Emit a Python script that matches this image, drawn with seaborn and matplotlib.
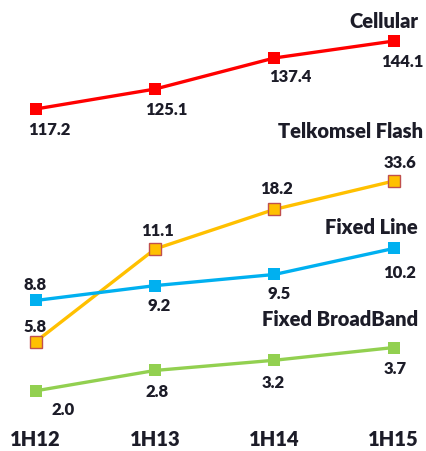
import matplotlib
matplotlib.use("Agg")
import matplotlib.pyplot as plt
import seaborn as sns
import pandas as pd

# ---- data ----
periods = ["1H12", "1H13", "1H14", "1H15"]
cellular = [117.2, 125.1, 137.4, 144.1]
telkomsel_flash = [5.8, 11.1, 18.2, 33.6]
fixed_line = [8.8, 9.2, 9.5, 10.2]
fixed_broadband = [2.0, 2.8, 3.2, 3.7]
series_names = ["Cellular", "Telkomsel Flash", "Fixed Line", "Fixed BroadBand"]

sns.set_theme(style="white")
plt.rcParams['font.family'] = ['Lato', 'DejaVu Sans']

W, H = 427, 452
fig = plt.figure(figsize=(W / 100, H / 100), dpi=100)
TXT = "#1c1c28"

def frac(top, bottom):
    return [0, 1 - bottom / H, 1, (bottom - top) / H]

XLIM = (-0.2996, 3.2787)

# style / layout per series (not data)
styles = {
    "Cellular": dict(color="#FF0000", mfc="#FF0000", mec="#FF0000", ms=8, box=(0, 426),
                     ylim=(-7.88, 160.74), scale=None,
                     off=[(14, -20), (11, -20), (16, -18), (9, -20)],
                     title=(418, 22)),
    "Telkomsel Flash": dict(color="#FFC000", mfc="#FFC000", mec="#C0504D", ms=8.5, box=(160, 426),
                            ylim=(4.058, 98.15), scale="recip",
                            off=[(-1, 16), (2, 19), (2, 21), (6, 19)],
                            title=(423, 132)),
    "Fixed Line": dict(color="#00B0F0", mfc="#00B0F0", mec="#00B0F0", ms=8, box=(0, 426),
                       ylim=(5.449, 16.913), scale=None,
                       off=[(-1, 16), (4, -19), (5, -19), (6, -24)],
                       title=(418, 228)),
    "Fixed BroadBand": dict(color="#92D050", mfc="#92D050", mec="#92D050", ms=8, box=(0, 426),
                            ylim=(0.658, 17.383), scale=None,
                            off=[(27, -18), (2, -21), (-1, -22), (1, -20)],
                            title=(418, 319)),
}

values = {"Cellular": cellular, "Telkomsel Flash": telkomsel_flash,
          "Fixed Line": fixed_line, "Fixed BroadBand": fixed_broadband}

base = None
for name in series_names:
    st = styles[name]
    ax = fig.add_axes(frac(*st["box"]))
    ax.patch.set_alpha(0)
    df = pd.DataFrame({"x": range(len(periods)), "v": values[name]})
    if st["scale"] == "recip":
        ax.set_yscale("function", functions=(lambda v: -1.0 / v, lambda u: -1.0 / u))
    sns.lineplot(data=df, x="x", y="v", ax=ax, color=st["color"], lw=2.4,
                 marker="s", markersize=st["ms"], markerfacecolor=st["mfc"],
                 markeredgecolor=st["mec"], markeredgewidth=1.0 if name == "Telkomsel Flash" else 0,
                 clip_on=False)
    ax.set_xlim(*XLIM)
    ax.set_ylim(*st["ylim"])
    for i, v in enumerate(values[name]):
        dx, dy = st["off"][i]
        ax.annotate(f"{v:.1f}", xy=(i, v), xytext=(dx * 0.72, dy * 0.72),
                    textcoords="offset points", ha="center", va="center",
                    fontsize=12, fontweight="heavy", color=TXT)
    ax.set_ylabel("")
    ax.set_xlabel("")
    ax.set_yticks([])
    for s in ax.spines.values():
        s.set_visible(False)
    if base is None:
        base = ax
        ax.set_xticks(range(len(periods)))
        ax.set_xticklabels(periods, fontsize=14.5, fontweight="heavy", color=TXT)
        ax.tick_params(axis="x", length=0, pad=3)
    else:
        ax.set_xticks([])
    tx, ty = st["title"]
    fig.text(tx / W, 1 - ty / H, name, ha="right", va="center",
             fontsize=14.5, fontweight="heavy", color=TXT)

fig.savefig("out.png", dpi=100)
